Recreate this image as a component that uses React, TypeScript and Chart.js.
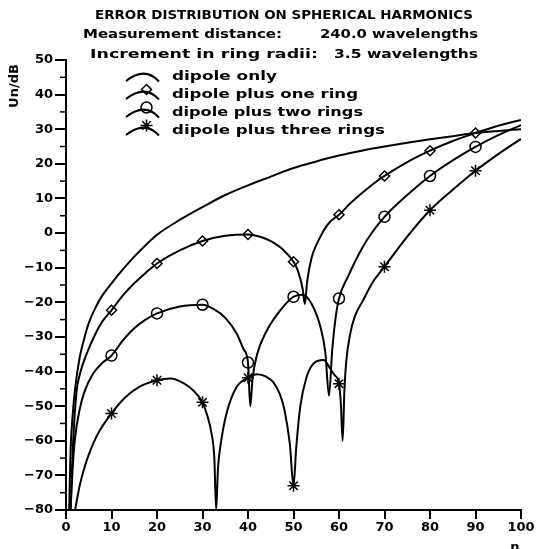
import React, { useEffect, useRef } from "react";
import { Chart, registerables } from "chart.js";

Chart.register(...registerables);

// ---- data ----
const dipoleN = [0.7, 1, 1.5, 2, 3, 4, 5, 6.5, 8, 10, 12.5, 15, 17.5, 20, 25, 30, 35, 40, 45, 50, 55, 60, 65, 70, 75, 80, 85, 90, 95, 100];
const dipoleDb = [-80, -63, -52, -45, -36, -30.5, -26, -21.5, -18, -14.5, -10.5, -6.8, -3.5, -0.5, 3.8, 7.5, 11, 13.8, 16.3, 18.8, 20.7, 22.4, 23.8, 25, 26.1, 27.1, 28, 28.9, 29.5, 30];

const oneN = [1, 1.5, 2.3, 3, 4.5, 6.7, 8, 10, 12.5, 15, 17.5, 20, 25, 30, 35, 40, 43, 45, 47.5, 50, 51, 52, 52.5, 53, 54, 55, 56, 57, 58, 60, 62.5, 65, 67.5, 70, 75, 80, 85, 90, 95, 100];
const oneDb = [-80, -62, -46, -41, -35, -28.5, -25.5, -22.3, -18, -14.5, -11.5, -8.8, -5, -2.3, -0.8, -0.4, -1.2, -2.3, -4.5, -8.3, -11, -16, -20.5, -14, -7, -3.5, -0.8, 1.5, 3.2, 5.3, 8.6, 11.5, 14.2, 16.5, 20.5, 23.8, 26.6, 28.9, 31, 32.7];

const twoN = [1, 1.5, 2, 3, 4, 6, 8, 10, 12.5, 15, 17.5, 20, 25, 30, 32.5, 35, 37.5, 39, 40, 40.5, 41, 42, 44, 47, 50, 52, 54, 56, 57, 57.8, 58.5, 59.2, 60, 62, 65, 67.5, 70, 75, 80, 85, 90, 95, 100];
const twoDb = [-80, -67, -59, -51, -46, -40.5, -37.5, -35.4, -31, -27.5, -25, -23.2, -21.2, -20.7, -22, -24.5, -29, -33.5, -37.4, -50, -42, -35, -28.5, -22.5, -18.4, -17.8, -20.5, -27.5, -34.5, -47, -34, -25, -18.9, -12.5, -4.5, 0.6, 4.7, 11, 16.5, 21, 24.9, 28.3, 31.2];

const threeN = [2, 3, 4, 5, 7, 10, 13, 16, 20, 23, 26, 28, 30, 31, 32, 32.6, 33, 33.4, 34, 35.3, 37.5, 40, 42, 44, 45.5, 47, 48, 49.2, 50, 50.6, 51.5, 52.9, 54.4, 56.6, 58, 59, 60, 60.4, 60.8, 61.2, 61.6, 62.4, 63.5, 65.3, 67.5, 70, 75, 80, 85, 90, 95, 100];
const threeDb = [-80, -73, -68, -64, -58, -52.1, -47.5, -44.5, -42.5, -42, -43.5, -45.5, -48.9, -52.5, -58, -65, -80, -68, -61, -52, -44.5, -41.8, -40.8, -41.5, -43, -46.5, -51, -61, -73, -62, -50, -41.5, -37.7, -36.7, -39, -41, -43.5, -49, -60, -45, -37, -29.5, -24, -19.4, -14, -9.7, -1, 6.6, 12.5, 18, 22.8, 27.2];

const markerN = [10, 20, 30, 40, 50, 60, 70, 80, 90];
const markOne = [-22.3, -8.8, -2.3, -0.4, -8.3, 5.3, 16.5, 23.8, 28.9];
const markTwo = [-35.4, -23.2, -20.7, -37.4, -18.4, -18.9, 4.7, 16.5, 24.9];
const markThree = [-52.1, -42.5, -48.9, -41.8, -73, -43.5, -9.7, 6.6, 18];

const xTicks = [0, 10, 20, 30, 40, 50, 60, 70, 80, 90, 100];
const yTicks = [50, 40, 30, 20, 10, 0, -10, -20, -30, -40, -50, -60, -70, -80];

const titleLine = "ERROR DISTRIBUTION ON SPHERICAL HARMONICS";
const infoLabels = ["Measurement distance:", "Increment in ring radii:"];
const infoValues = ["240.0 wavelengths", "3.5 wavelengths"];
const legendLabels = ["dipole only", "dipole plus one ring", "dipole plus two rings", "dipole plus three rings"];
const yTitle = "Un/dB";
const xTitle = "n";

const FONT = '"DejaVu Sans"';

function pts(xs: number[], ys: number[]) {
  return xs.map((x, i) => ({ x, y: ys[i] }));
}

function fitText(ctx: CanvasRenderingContext2D, text: string, x: number, y: number, w: number, size: number) {
  ctx.font = `bold ${size}px ${FONT}`;
  const m = ctx.measureText(text).width;
  ctx.save();
  ctx.translate(x, y);
  ctx.scale(w / m, 1);
  ctx.textAlign = "left";
  ctx.textBaseline = "middle";
  ctx.fillText(text, 0, 0);
  ctx.restore();
}

function drawMarker(ctx: CanvasRenderingContext2D, kind: number, x: number, y: number) {
  ctx.beginPath();
  if (kind === 1) {
    const r = 5;
    ctx.moveTo(x, y - r);
    ctx.lineTo(x + r, y);
    ctx.lineTo(x, y + r);
    ctx.lineTo(x - r, y);
    ctx.closePath();
  } else if (kind === 2) {
    ctx.arc(x, y, 5.5, 0, Math.PI * 2);
  } else if (kind === 3) {
    const r = 6;
    for (let k = 0; k < 4; k++) {
      const a = (k * Math.PI) / 4;
      ctx.moveTo(x - r * Math.cos(a), y - r * Math.sin(a));
      ctx.lineTo(x + r * Math.cos(a), y + r * Math.sin(a));
    }
  }
  ctx.stroke();
}

const decorPlugin = {
  id: "decor",
  afterDraw(chart: any) {
    const ctx: CanvasRenderingContext2D = chart.ctx;
    ctx.save();
    ctx.fillStyle = "#000";
    ctx.strokeStyle = "#000";
    // titles
    fitText(ctx, titleLine, 95, 16, 378, 13);
    fitText(ctx, infoLabels[0], 83, 35, 199, 13);
    fitText(ctx, infoValues[0], 320, 35, 158, 13);
    fitText(ctx, infoLabels[1], 90, 55, 228, 13);
    fitText(ctx, infoValues[1], 334, 55, 144, 13);
    // legend
    const legY = [77, 95, 113, 131];
    const legW = [105, 186, 191, 213];
    legendLabels.forEach((lab, i) => {
      const y = legY[i];
      ctx.lineWidth = 2;
      ctx.beginPath();
      ctx.moveTo(126, y + 4);
      ctx.quadraticCurveTo(145, y - 11, 159, y + 4.5);
      ctx.stroke();
      ctx.lineWidth = 1.5;
      if (i > 0) drawMarker(ctx, i, 146.5, y - 5.5);
      fitText(ctx, lab, 172, y, legW[i], 13);
    });
    // y-axis title
    ctx.save();
    ctx.translate(15, 86);
    ctx.rotate(-Math.PI / 2);
    ctx.font = `bold 13px ${FONT}`;
    ctx.textAlign = "center";
    ctx.textBaseline = "middle";
    ctx.fillText(yTitle, 0, 0);
    ctx.restore();
    // x-axis title
    ctx.font = `bold 13px ${FONT}`;
    ctx.textAlign = "center";
    ctx.textBaseline = "top";
    ctx.fillText(xTitle, 515, 541);
    // minor y ticks
    const ys = chart.scales.y;
    const left = chart.chartArea.left;
    ctx.lineWidth = 1.5;
    for (let i = 0; i < yTicks.length - 1; i++) {
      const v = (yTicks[i] + yTicks[i + 1]) / 2;
      const py = ys.getPixelForValue(v);
      ctx.beginPath();
      ctx.moveTo(left - 6, py);
      ctx.lineTo(left, py);
      ctx.stroke();
    }
    ctx.restore();
  },
};

export default function App() {
  const ref = useRef<HTMLCanvasElement | null>(null);
  useEffect(() => {
    if (!ref.current) return;
    const lineDs = (data: any[]) => ({
      data,
      showLine: true,
      borderColor: "#000",
      borderWidth: 2,
      pointRadius: 0,
      cubicInterpolationMode: "monotone" as const,
      fill: false,
    });
    const markDs = (data: any[], style: string, r: number) => ({
      data,
      showLine: false,
      pointStyle: style,
      pointRadius: r,
      pointBorderColor: "#000",
      pointBackgroundColor: "rgba(0,0,0,0)",
      pointBorderWidth: 1.5,
      borderColor: "#000",
      backgroundColor: "rgba(0,0,0,0)",
    });
    const chart = new Chart(ref.current, {
      type: "scatter",
      data: {
        datasets: [
          lineDs(pts(dipoleN, dipoleDb)),
          lineDs(pts(oneN, oneDb)),
          lineDs(pts(twoN, twoDb)),
          lineDs(pts(threeN, threeDb)),
          markDs(pts(markerN, markOne), "rectRot", 5),
          markDs(pts(markerN, markTwo), "circle", 5.5),
          markDs(pts(markerN, markThree), "star", 6),
        ] as any,
      },
      options: {
        animation: false,
        responsive: false,
        devicePixelRatio: 1,
        layout: { padding: { left: 0, top: 60, right: 15, bottom: 0 } },
        plugins: { legend: { display: false }, tooltip: { enabled: false }, title: { display: false } },
        events: [],
        scales: {
          x: {
            type: "linear",
            min: 0,
            max: 100,
            afterFit: (s: any) => { s.height = 39; },
            afterBuildTicks: (s: any) => { s.ticks = xTicks.map((v) => ({ value: v })); },
            ticks: {
              color: "#000",
              font: { family: "DejaVu Sans", size: 13, weight: "bold" },
              padding: 1,
              maxRotation: 0,
              autoSkip: false,
            },
            grid: { drawOnChartArea: false, drawTicks: true, tickLength: 9, color: "#000", lineWidth: 2 },
            border: { display: true, color: "#000", width: 2 },
          },
          y: {
            type: "linear",
            min: -80,
            max: 50,
            afterFit: (s: any) => { s.width = 66; },
            afterBuildTicks: (s: any) => { s.ticks = yTicks.map((v) => ({ value: v })); },
            ticks: {
              color: "#000",
              font: { family: "DejaVu Sans", size: 13, weight: "bold" },
              padding: 2,
              autoSkip: false,
              callback: (v: any) => (Number(v) < 0 ? "\u2212" + Math.abs(Number(v)) : String(v)),
            },
            grid: { drawOnChartArea: false, drawTicks: true, tickLength: 11, color: "#000", lineWidth: 2 },
            border: { display: true, color: "#000", width: 2 },
          },
        },
      },
      plugins: [decorPlugin],
    });
    return () => chart.destroy();
  }, []);
  return (
    <div style={{ position: "fixed", left: 0, top: 0, width: 536, height: 549, background: "#fff" }}>
      <canvas ref={ref} width={536} height={549} style={{ display: "block" }} />
    </div>
  );
}
